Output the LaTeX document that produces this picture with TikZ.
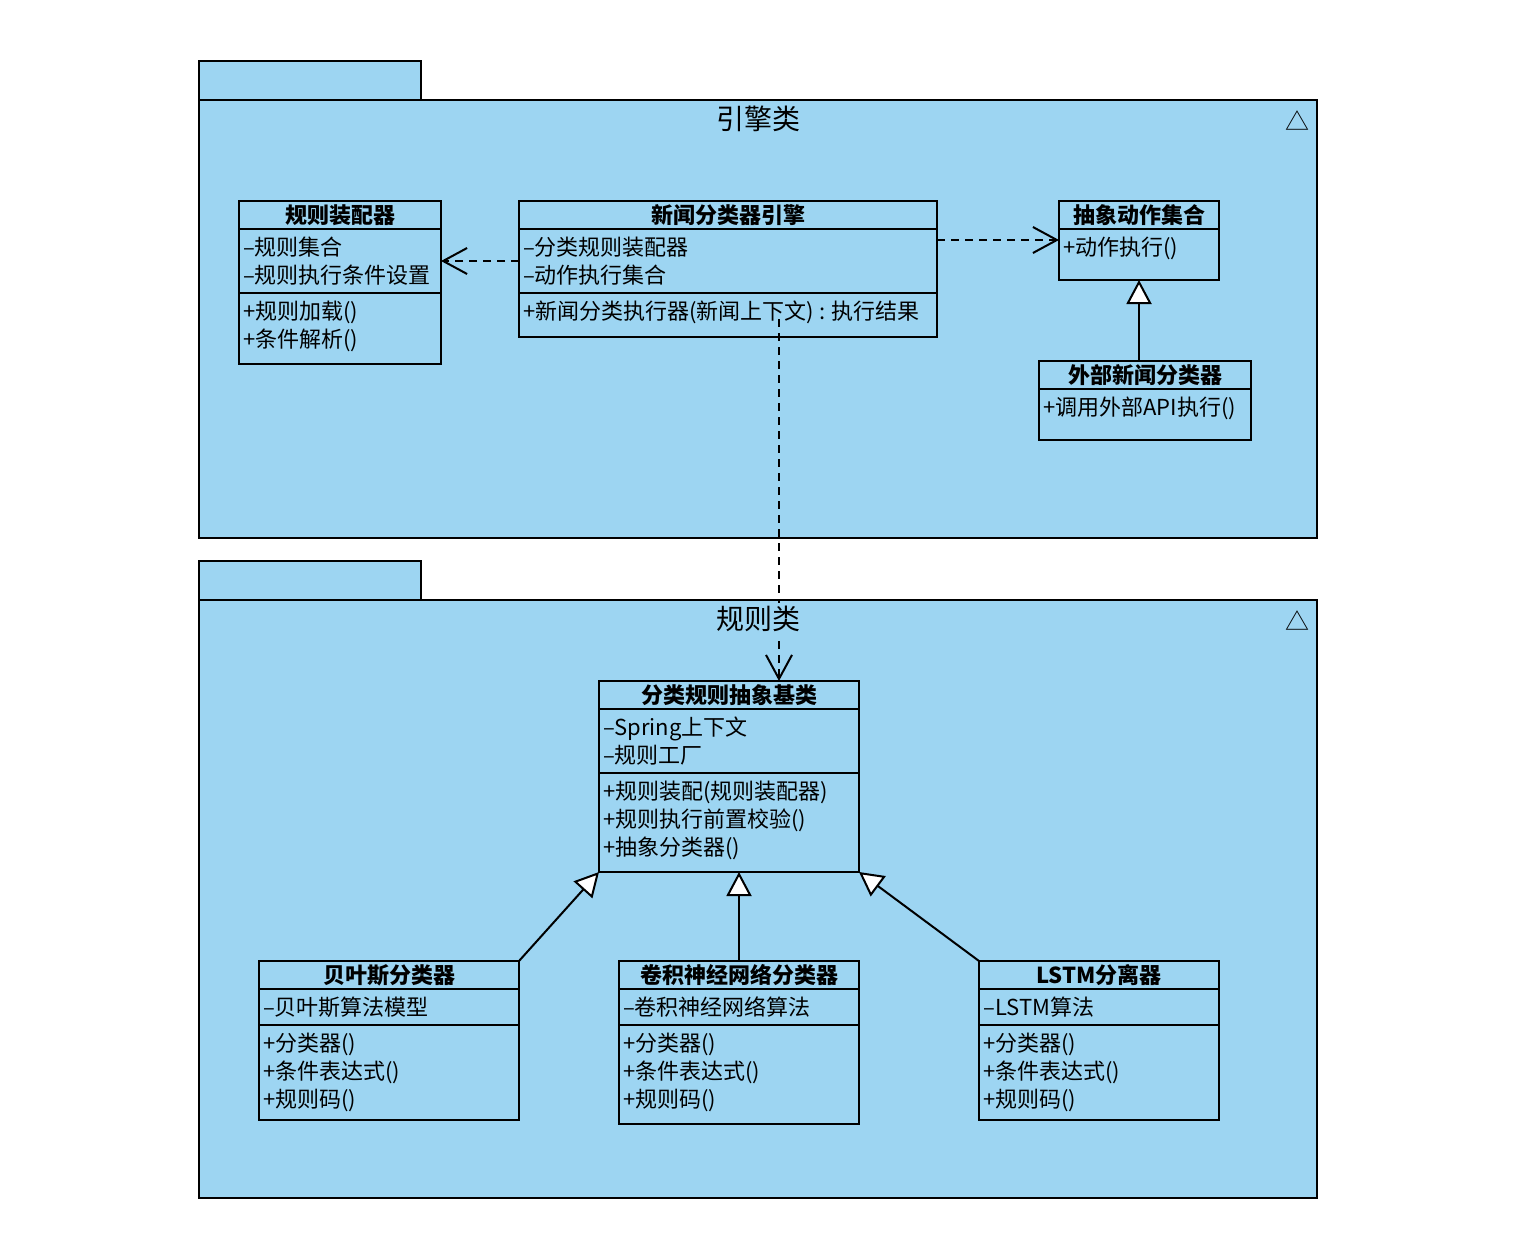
\documentclass[tikz,border=0pt]{standalone}
\usepackage{fontspec}
\setmainfont{Noto Sans CJK SC}
\usetikzlibrary{positioning,calc,arrows.meta}
\definecolor{ink}    {HTML}{000000}
\definecolor{pkgblue}{HTML}{9DD5F2}
\tikzset{
  every node/.style={font=\fontsize{22}{28}\selectfont},
  % --- packages
  pkg/.style     = {draw=ink, fill=pkgblue, line width=2pt, anchor=north west,
                    inner sep=0pt, outer sep=0pt},
  pkgname/.style = {font=\fontsize{28}{34}\selectfont, fill=pkgblue, inner sep=3pt},
  pkgmark/.style = {font=\fontsize{24}{24}\selectfont, inner sep=0pt},
  % --- classes
  ctitle/.style  = {draw=ink, fill=pkgblue, line width=2pt, anchor=north west,
                    inner sep=0pt, outer sep=0pt, minimum height=28pt,
                    font=\fontsize{22}{28}\selectfont\bfseries},
  csec/.style    = {draw=ink, fill=pkgblue, line width=2pt, inner sep=0pt, outer sep=0pt},
  ctext/.style   = {anchor=north west, align=left, inner xsep=4pt, inner ysep=8pt},
  % --- edges
  dep/.style     = {draw=ink, line width=2pt, dash pattern=on 8pt off 6pt,
                    -{Straight Barb[length=24pt, width=26pt, line width=2pt]}},
  inh/.style     = {draw=ink, line width=2pt,
                    -{Triangle[length=24pt, width=25pt, fill=white, line width=2pt]}},
}
\begin{document}
\begin{tikzpicture}[x=1pt, y=-1pt]
  \useasboundingbox (0,0) rectangle (1516,1252);

  % engine package
  \node[pkg, minimum width=222pt, minimum height=39pt] (engtab) at (199,61) {};
  \node[pkg, minimum width=1118pt, minimum height=438pt] (engpkg) at (199,100) {};
  \node[pkgmark] (engmark) at (1297,121) {△};

  \node[ctitle, minimum width=202pt] (asm) at (239,201) {规则装配器};
  \node[csec, minimum width=202pt, minimum height=64pt, below=0pt of asm,
        label={[ctext]north west:{--规则集合\\--规则执行条件设置}}] (asma) {};
  \node[csec, minimum width=202pt, minimum height=71pt, below=0pt of asma,
        label={[ctext]north west:{+规则加载()\\+条件解析()}}] (asmm) {};

  \node[ctitle, minimum width=418pt] (eng) at (519,201) {新闻分类器引擎};
  \node[csec, minimum width=418pt, minimum height=64pt, below=0pt of eng,
        label={[ctext]north west:{--分类规则装配器\\--动作执行集合}}] (enga) {};
  \node[csec, minimum width=418pt, minimum height=44pt, below=0pt of enga,
        label={[ctext]north west:{+新闻分类执行器(新闻上下文) : 执行结果}}] (engm) {};

  \node[ctitle, minimum width=160pt] (abs) at (1059,201) {抽象动作集合};
  \node[csec, minimum width=160pt, minimum height=51pt, below=0pt of abs,
        label={[ctext]north west:{+动作执行()}}] (absm) {};

  \node[ctitle, minimum width=212pt] (ext) at (1039,361) {外部新闻分类器};
  \node[csec, minimum width=212pt, minimum height=51pt, below=0pt of ext,
        label={[ctext]north west:{+调用外部API执行()}}] (extm) {};

  % rule package
  \node[pkg, minimum width=222pt, minimum height=39pt] (ruletab) at (199,561) {};
  \node[pkg, minimum width=1118pt, minimum height=598pt] (rulepkg) at (199,600) {};
  \node[pkgmark] (rulemark) at (1297,621) {△};

  \node[ctitle, minimum width=260pt] (base) at (599,681) {分类规则抽象基类};
  \node[csec, minimum width=260pt, minimum height=64pt, below=0pt of base,
        label={[ctext]north west:{--Spring上下文\\--规则工厂}}] (basea) {};
  \node[csec, minimum width=260pt, minimum height=99pt, below=0pt of basea,
        label={[ctext]north west:{+规则装配(规则装配器)\\+规则执行前置校验()\\+抽象分类器()}}] (basem) {};

  \node[ctitle, minimum width=260pt] (bay) at (259,961) {贝叶斯分类器};
  \node[csec, minimum width=260pt, minimum height=36pt, below=0pt of bay,
        label={[ctext]north west:{--贝叶斯算法模型}}] (baya) {};
  \node[csec, minimum width=260pt, minimum height=95pt, below=0pt of baya,
        label={[ctext]north west:{+分类器()\\+条件表达式()\\+规则码()}}] (baym) {};

  \node[ctitle, minimum width=240pt] (cnn) at (619,961) {卷积神经网络分类器};
  \node[csec, minimum width=240pt, minimum height=36pt, below=0pt of cnn,
        label={[ctext]north west:{--卷积神经网络算法}}] (cnna) {};
  \node[csec, minimum width=240pt, minimum height=99pt, below=0pt of cnna,
        label={[ctext]north west:{+分类器()\\+条件表达式()\\+规则码()}}] (cnnm) {};

  \node[ctitle, minimum width=240pt] (lstm) at (979,961) {LSTM分离器};
  \node[csec, minimum width=240pt, minimum height=36pt, below=0pt of lstm,
        label={[ctext]north west:{--LSTM算法}}] (lstma) {};
  \node[csec, minimum width=240pt, minimum height=95pt, below=0pt of lstma,
        label={[ctext]north west:{+分类器()\\+条件表达式()\\+规则码()}}] (lstmm) {};

  % connectors
  \draw[dep] (enga.west) -- (asma.east);
  \draw[dep] ([yshift=21pt]enga.east) -- ([yshift=14.5pt]absm.west);
  \draw[dep] ([xshift=51pt,yshift=18pt]engm.south) -- ([xshift=50pt]base.north);
  \draw[inh] (ext.north -| absm.south) -- (absm.south);
  \draw[inh] (bay.north east) -- (basem.south west);
  \draw[inh] (cnn.north) -- (cnn.north |- basem.south);
  \draw[inh] (lstm.north west) -- (basem.south east);

  % package names go over the lines
  \node[pkgname] (engname) at (758,119) {引擎类};
  \node[pkgname] (rulename) at (758,619) {规则类};
\end{tikzpicture}
\end{document}
